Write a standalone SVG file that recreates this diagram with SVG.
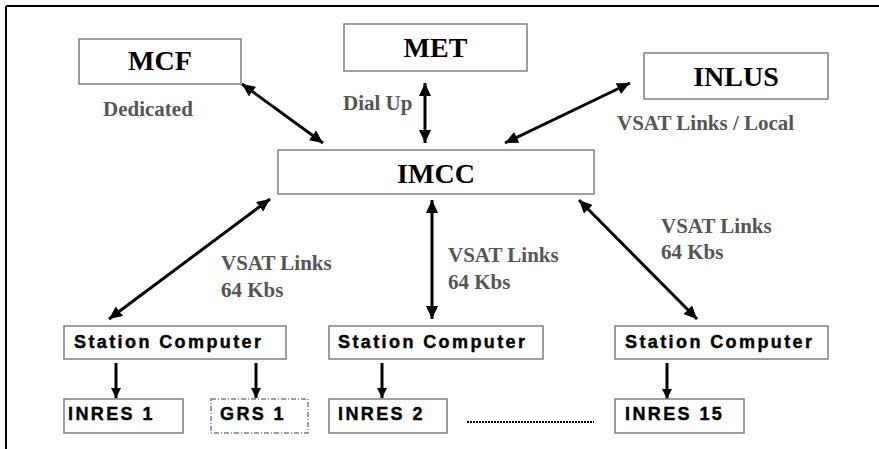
<svg xmlns="http://www.w3.org/2000/svg" width="879" height="449" viewBox="0 0 879 449">
<style>
.box{fill:#fff;stroke:#7f7f7f;stroke-width:1.5}
.dash{fill:#fff;stroke:#7f7f7f;stroke-width:1.5;stroke-dasharray:5 2 1 2}
.title{font-family:"Liberation Serif","Times New Roman",serif;font-weight:bold;font-size:28px;fill:#000;text-anchor:middle}
.lbl{font-family:"Liberation Serif","Times New Roman",serif;font-weight:bold;font-size:21px;fill:#555}
.sans{font-family:"Liberation Sans",Arial,sans-serif;font-weight:bold;font-size:18px;letter-spacing:2.4px;fill:#000;stroke:#000;stroke-width:0.4}
.ln{stroke:#000;stroke-width:3;fill:none}
.ln2{stroke:#000;stroke-width:3;fill:none}
</style>
<defs>
<marker id="ah" markerUnits="userSpaceOnUse" markerWidth="14" markerHeight="12" refX="13" refY="6" orient="auto-start-reverse">
<path d="M0,0 L13,6 L0,12 Z" fill="#000"/>
</marker>
<marker id="ahs" markerUnits="userSpaceOnUse" markerWidth="11" markerHeight="10" refX="10" refY="5" orient="auto">
<path d="M0,0 L10,5 L0,10 Z" fill="#000"/>
</marker>
</defs>
<rect width="879" height="449" fill="#fff"/>
<g id="frame">
<line x1="6" y1="6" x2="879" y2="6" stroke="#000" stroke-width="2"/>
<line x1="6" y1="6" x2="6" y2="449" stroke="#000" stroke-width="2"/>
</g>
<g id="connectors">
<line class="ln" x1="242" y1="84" x2="323" y2="143" marker-start="url(#ah)" marker-end="url(#ah)"/>
<line class="ln" x1="425" y1="83" x2="425" y2="143" marker-start="url(#ah)" marker-end="url(#ah)"/>
<line class="ln" x1="630" y1="83" x2="505" y2="143" marker-start="url(#ah)" marker-end="url(#ah)"/>
<line class="ln" x1="270" y1="199" x2="109" y2="319" marker-start="url(#ah)" marker-end="url(#ah)"/>
<line class="ln" x1="432" y1="200" x2="432" y2="319" marker-start="url(#ah)" marker-end="url(#ah)"/>
<line class="ln" x1="579" y1="200" x2="697" y2="319" marker-start="url(#ah)" marker-end="url(#ah)"/>
<line class="ln2" x1="116" y1="363" x2="116" y2="398" marker-end="url(#ahs)"/>
<line class="ln2" x1="256" y1="363" x2="256" y2="398" marker-end="url(#ahs)"/>
<line class="ln2" x1="382" y1="363" x2="382" y2="398" marker-end="url(#ahs)"/>
<line class="ln2" x1="667" y1="363" x2="667" y2="399" stroke-width="4" marker-end="url(#ahs)"/>
<line x1="467" y1="422" x2="594" y2="422" stroke="#000" stroke-width="2" stroke-dasharray="2 1"/>
</g>
<g id="labels">
<text class="lbl" x="103" y="116">Dedicated</text>
<text class="lbl" x="343" y="110">Dial Up</text>
<text class="lbl" x="617" y="130">VSAT Links / Local</text>
<text class="lbl" x="221" y="270">VSAT Links</text>
<text class="lbl" x="221" y="297">64 Kbs</text>
<text class="lbl" x="448" y="262">VSAT Links</text>
<text class="lbl" x="448" y="289">64 Kbs</text>
<text class="lbl" x="661" y="233">VSAT Links</text>
<text class="lbl" x="661" y="259">64 Kbs</text>
</g>
<g id="MCF"><rect class="box" x="79" y="39" width="162" height="45"/><text class="title" x="160" y="70">MCF</text></g>
<g id="MET"><rect class="box" x="344" y="24" width="183" height="47"/><text class="title" x="435.5" y="57">MET</text></g>
<g id="INLUS"><rect class="box" x="644" y="53" width="184" height="46"/><text class="title" x="736" y="86">INLUS</text></g>
<g id="IMCC"><rect class="box" x="278" y="150" width="316" height="44"/><text class="title" x="436" y="183">IMCC</text></g>
<g id="SC1"><rect class="box" x="64" y="326" width="222" height="33"/><text class="sans" x="74" y="348">Station Computer</text></g>
<g id="SC2"><rect class="box" x="329" y="326" width="214" height="33"/><text class="sans" x="338" y="348">Station Computer</text></g>
<g id="SC3"><rect class="box" x="615" y="326" width="213" height="33"/><text class="sans" x="625" y="348">Station Computer</text></g>
<g id="INRES1"><rect class="box" x="64" y="399" width="119" height="34"/><text class="sans" x="68" y="420">INRES 1</text></g>
<g id="GRS1"><rect class="dash" x="211" y="399" width="97" height="34"/><text class="sans" x="220" y="420">GRS 1</text></g>
<g id="INRES2"><rect class="box" x="329" y="399" width="118" height="34"/><text class="sans" x="338" y="420">INRES 2</text></g>
<g id="INRES15"><rect class="box" x="615" y="399" width="129" height="34"/><text class="sans" x="625" y="420">INRES 15</text></g>
</svg>
